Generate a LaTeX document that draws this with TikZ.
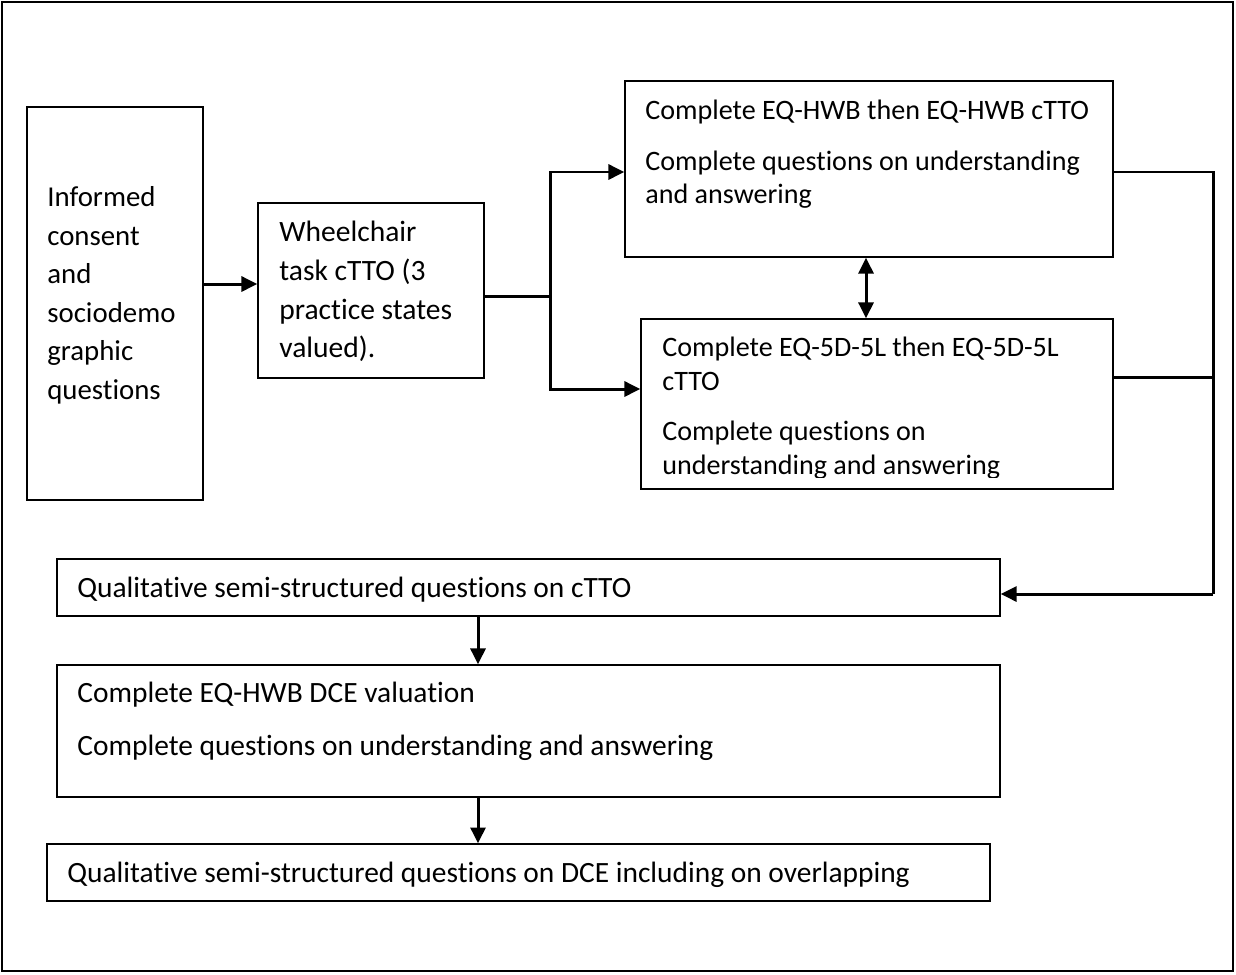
\documentclass[tikz,border=0pt]{standalone}
\usepackage{fontspec}
\setmainfont{Carlito}[Ligatures=NoCommon]
\usetikzlibrary{arrows.meta,positioning,fit,calc}

\begin{document}
\begin{tikzpicture}[x=0.02cm, y=-0.02cm,
    box/.style={draw, line width=0.8pt, inner sep=0pt},
    txt/.style={inner sep=0pt, anchor=north west, align=left, font=\fontsize{16pt}{19pt}\selectfont},
    wide/.style={txt, font=\fontsize{16.75pt}{19pt}\selectfont},
    tall/.style={txt, font=\fontsize{#1}{22pt}\selectfont},
    link/.style={line width=1.7pt},
    arr/.style={link, -{Triangle[length=9pt, width=8.5pt]}}]
  \useasboundingbox (0,0) rectangle (1236,974);
  \draw[line width=1.2pt] (2,2) rectangle (1233,971);
  % cajas
  \node[box, fit={(27,107) (203,500)}] (cons) {};
  \node[box, fit={(258,203) (484,378)}] (wheel) {};
  \node[box, fit={(625,81) (1113,257)}] (hwb) {};
  \node[box, fit={(641,319) (1113,489)}] (eq5d) {};
  \node[box, fit={(57,559) (1000,616)}] (qualc) {};
  \node[box, fit={(57,665) (1000,797)}] (dce) {};
  \node[box, fit={(47,844) (990,901)}] (qualdce) {};
  % textos
  \node[tall=16.4pt] (consT) at (47,186) {Informed\\consent\\and\\sociodemo\\graphic\\questions};
  \node[tall=16.8pt] (wheelT) at (279,221) {Wheelchair\\task cTTO (3\\practice states\\valued).};
  \node[txt] (hwbT) at (645,100) {Complete EQ-HWB then EQ-HWB cTTO\\[0.34cm]Complete questions on understanding\\and answering};
  \begin{scope}
    \clip (641,319) rectangle (1113,477);
    \node[txt] (eq5dT) at (662,337) {Complete EQ-5D-5L then EQ-5D-5L\\cTTO\\[0.34cm]Complete questions on\\understanding and answering};
  \end{scope}
  \node[wide] (qualcT) at (77,577) {Qualitative semi-structured questions on cTTO};
  \node[wide] (dceT) at (77,682) {Complete EQ-HWB DCE valuation\\[0.39cm]Complete questions on understanding and answering};
  \node[wide] (qualdceT) at (67,862) {Qualitative semi-structured questions on DCE including on overlapping};
  % flechas
  \draw[arr] ($(cons.east)+(0,-19.5)$) coordinate (c1) -- (c1 -| wheel.west);
  \coordinate (split) at (550,296);
  \draw[link] ($(wheel.east)+(0,5.5)$) -- (split);
  \draw[arr] (split) |- ($(hwb.west)+(0,3)$);
  \draw[arr] (split) |- ($(eq5d.west)+(0,-15)$);
  \draw[link, {Triangle[length=9pt, width=8.5pt]}-{Triangle[length=9pt, width=8.5pt]}]
    ($(hwb.south)+(-3,0)$) coordinate (h1) -- (h1 |- eq5d.north);
  % retorno por la derecha
  \coordinate (bend) at (1213,594);
  \draw[link] ($(hwb.east)+(0,3)$) -| (bend);
  \draw[link] ($(eq5d.east)+(0,-27)$) coordinate (d1) -- (d1 -| bend);
  \draw[arr] (bend) -- (bend -| qualc.east);
  % columna inferior
  \coordinate (axis) at (478,0);
  \draw[arr] (qualc.south -| axis) -- (dce.north -| axis);
  \draw[arr] (dce.south -| axis) -- (qualdce.north -| axis);
\end{tikzpicture}
\end{document}
